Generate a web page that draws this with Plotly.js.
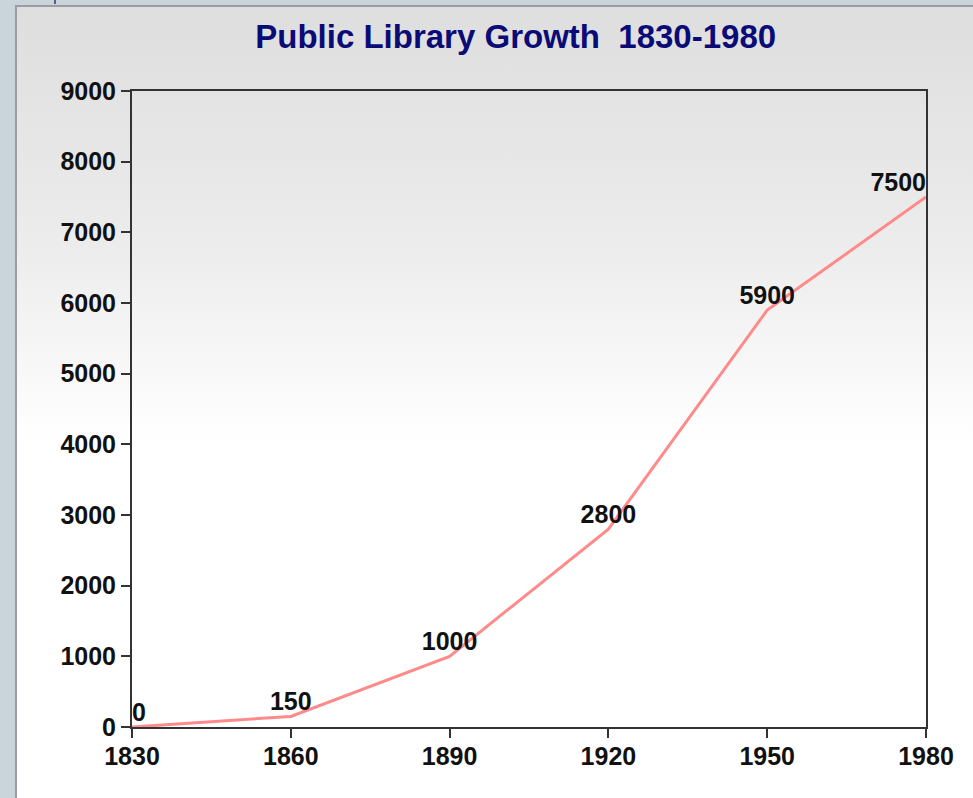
<!DOCTYPE html>
<html>
<head>
<meta charset="utf-8">
<script src="https://cdn.plot.ly/plotly-3.0.1.min.js"></script>
<style>
  html, body { margin: 0; padding: 0; width: 973px; height: 798px; overflow: hidden; background: #c9d4db; }
  #frame { position: absolute; left: 15px; top: 5px; width: 958px; height: 793px;
           border-left: 2px solid #9a9ea2; border-top: 2px solid #9a9ea2;
           background: linear-gradient(to bottom, #dedede 0%, #ececec 30%, #ffffff 55%, #ffffff 100%); }
  #mark { position: absolute; left: 54px; top: 0; width: 2px; height: 4px; background: #55608a; }
  #chart { position: absolute; left: 0; top: 0; width: 973px; height: 798px; }
</style>
</head>
<body>
<div id="frame"></div>
<div id="mark"></div>
<div id="chart"></div>
<script>
const years = [1830, 1860, 1890, 1920, 1950, 1980];
const libraries = [0, 150, 1000, 2800, 5900, 7500];
const labels = ['0', '150', '1000', '2800', '5900', '7500'];
const labelPositions = ['top right', 'top center', 'top center', 'top center', 'top center', 'top left'];
const xTicks = [1830, 1860, 1890, 1920, 1950, 1980];
const yTicks = [0, 1000, 2000, 3000, 4000, 5000, 6000, 7000, 8000, 9000];

const fontFam = '"Liberation Sans", Arial, sans-serif';

const trace = {
  x: years,
  y: libraries,
  type: 'scatter',
  mode: 'lines+text',
  text: labels,
  textposition: labelPositions,
  textfont: { family: fontFam, size: 25, color: '#111', weight: 700 },
  line: { color: '#ff8a8a', width: 3 },
  cliponaxis: false,
  hoverinfo: 'skip'
};

const axisCommon = {
  showline: true, mirror: true, linecolor: '#333', linewidth: 2,
  ticks: 'outside', ticklen: 9, tickwidth: 2, tickcolor: '#333',
  showgrid: false, zeroline: false,
  tickfont: { family: fontFam, size: 25, color: '#111', weight: 700 }
};

const layout = {
  width: 973, height: 798,
  margin: { l: 132, r: 47, t: 91, b: 71 },
  paper_bgcolor: 'rgba(0,0,0,0)',
  plot_bgcolor: 'rgba(0,0,0,0)',
  showlegend: false,
  title: {
    text: 'Public Library Growth  1830-1980',
    font: { family: fontFam, size: 33, color: '#0b0b78', weight: 700 },
    xref: 'container', x: 0.53, xanchor: 'center',
    yref: 'container', y: 0.954, yanchor: 'middle'
  },
  xaxis: Object.assign({}, axisCommon, {
    range: [1830, 1980], tickvals: xTicks, ticktext: xTicks.map(String),
    ticklabelstandoff: -3
  }),
  yaxis: Object.assign({}, axisCommon, {
    range: [0, 9000], tickvals: yTicks, ticktext: yTicks.map(String)
  })
};

Plotly.newPlot('chart', [trace], layout, { displayModeBar: false, staticPlot: true });
</script>
</body>
</html>
